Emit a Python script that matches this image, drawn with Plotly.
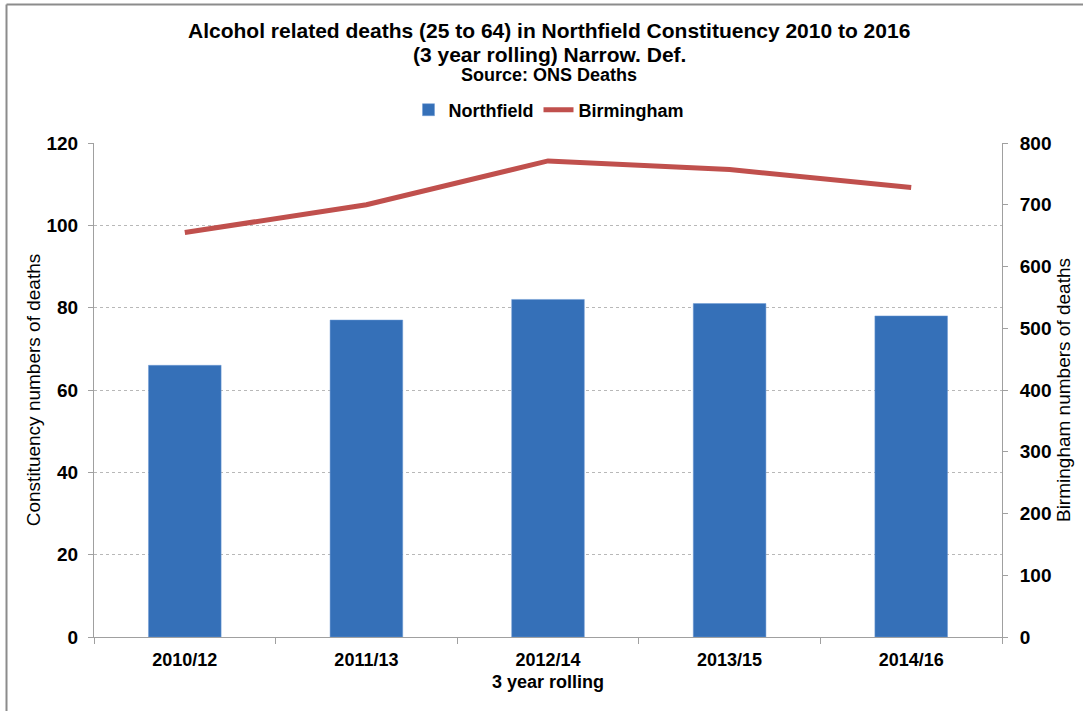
import plotly.graph_objects as go

periods = ["2010/12", "2011/13", "2012/14", "2013/15", "2014/16"]
northfield = [66, 77, 82, 81, 78]
birmingham = [655, 700, 771, 757, 728]

W, H = 1083, 711
ML, MR, MT, MB = 94, 81, 143, 74
PW, PH = W - ML - MR, H - MT - MB

FONT = "Liberation Sans, Arial, sans-serif"


def px_x(p):
    return (p - ML) / PW


def px_y(p):
    return (H - MB - p) / PH


fig = go.Figure()
fig.add_trace(go.Bar(
    x=periods, y=northfield, name="<b>Northfield</b>",
    marker=dict(color="#3570B8", line=dict(color="#6E9AD4", width=0.5)),
    width=0.4,
))
fig.add_trace(go.Scatter(
    x=periods, y=birmingham, name="<b>Birmingham</b>", yaxis="y2",
    mode="lines", line=dict(color="#C0504D", width=5),
))

# title lines as annotations so each sits where the reference has it
titles = [
    ("<b>Alcohol related deaths (25 to 64) in Northfield Constituency 2010 to 2016</b>", 30, 21),
    ("<b>(3 year rolling) Narrow. Def.</b>", 54, 21),
    ("<b>Source: ONS Deaths</b>", 75, 18),
]
for txt, ypx, sz in titles:
    fig.add_annotation(text=txt, xref="paper", yref="paper", x=px_x(549), y=px_y(ypx),
                       xanchor="center", yanchor="middle", showarrow=False,
                       font=dict(size=sz, family=FONT, color="black"))

fig.update_layout(
    width=W, height=H,
    margin=dict(l=ML, r=MR, t=MT, b=MB),
    paper_bgcolor="white", plot_bgcolor="white",
    font=dict(family=FONT, color="black", size=18),
    legend=dict(orientation="h", x=px_x(549), xanchor="center", y=px_y(110), yanchor="middle",
                font=dict(size=18, family=FONT), traceorder="normal"),
    xaxis=dict(
        title=dict(text="<b>3 year rolling</b>", font=dict(size=18), standoff=6),
        showline=True, linecolor="#A0A0A0", linewidth=1,
        ticks="outside", ticklen=6, tickcolor="#A0A0A0", tickson="boundaries",
        tickfont=dict(size=18, weight="bold"), ticklabelstandoff=6,
        showgrid=False,
    ),
    yaxis=dict(
        title=dict(text="Constituency numbers of deaths", font=dict(size=19), standoff=0),
        range=[0, 120], dtick=20,
        showline=True, linecolor="#A0A0A0", linewidth=1,
        ticks="outside", ticklen=5, tickcolor="#A0A0A0",
        tickfont=dict(size=19, weight="bold"), ticklabelstandoff=6,
        showgrid=True, gridcolor="#B8B8B8", griddash="dot", gridwidth=1,
        zeroline=False,
    ),
    yaxis2=dict(
        title=dict(text="Birmingham numbers of deaths", font=dict(size=19), standoff=6),
        overlaying="y", side="right",
        range=[0, 800], dtick=100,
        showline=True, linecolor="#A0A0A0", linewidth=1,
        ticks="outside", ticklen=5, tickcolor="#A0A0A0",
        tickfont=dict(size=19, weight="bold"), ticklabelstandoff=8,
        showgrid=False, zeroline=False,
    ),
    bargap=0.6,
    showlegend=True,
)

# outer chart border (top and left edges visible in the reference)
fig.add_shape(type="line", xref="paper", yref="paper",
              x0=px_x(6.5), x1=px_x(W + 5), y0=px_y(4.5), y1=px_y(4.5),
              line=dict(color="#8C8C8C", width=2))
fig.add_shape(type="line", xref="paper", yref="paper",
              x0=px_x(6.5), x1=px_x(6.5), y0=px_y(4.5), y1=px_y(H + 5),
              line=dict(color="#8C8C8C", width=2))

fig.write_html("out.html", config={"displayModeBar": False},
               post_script="document.body.style.margin='0';")
